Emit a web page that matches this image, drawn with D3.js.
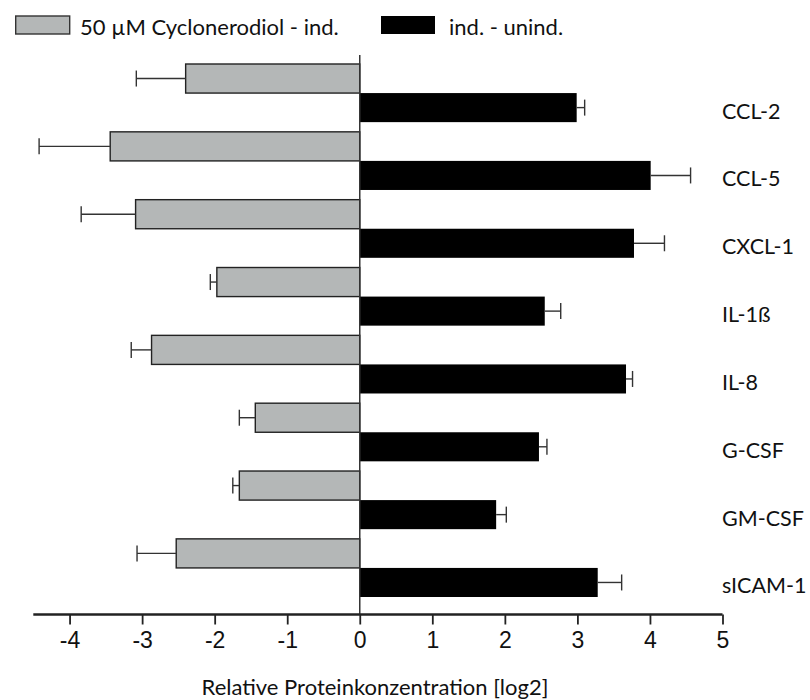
<!DOCTYPE html>
<html>
<head>
<meta charset="utf-8">
<script src="https://cdn.jsdelivr.net/npm/d3@7"></script>
<style>
  html, body { margin: 0; padding: 0; background: #fff; }
  svg { display: block; }
</style>
</head>
<body>
<div id="chart"></div>
<script>
// ---- Data ----
const categories = ["CCL-2", "CCL-5", "CXCL-1", "IL-1ß", "IL-8", "G-CSF", "GM-CSF", "sICAM-1"];
const seriesNames = ["50 µM Cyclonerodiol - ind.", "ind. - unind."];
const cycloValues = [-2.40, -3.44, -3.09, -1.97, -2.87, -1.44, -1.66, -2.53];
const cycloErrors = [0.68, 0.98, 0.75, 0.09, 0.28, 0.22, 0.09, 0.54];
const indValues   = [2.99, 4.01, 3.78, 2.55, 3.67, 2.47, 1.88, 3.28];
const indErrors   = [0.11, 0.55, 0.42, 0.22, 0.09, 0.11, 0.14, 0.33];
const xTicks = [-4, -3, -2, -1, 0, 1, 2, 3, 4, 5];
const xTitle = "Relative Proteinkonzentration [log2]";

// ---- Layout ----
const W = 810, H = 700;
const colors = ["#b4b7b7", "#000000"];
const svg = d3.select("#chart").append("svg").attr("width", W).attr("height", H);

const x = d3.scaleLinear().domain([-4.5, 5]).range([33.3, 722.5]);
const y = d3.scaleBand().domain(categories).range([64, 597]).paddingInner(0.143).paddingOuter(0);
const ySub = d3.scaleBand().domain([0, 1]).range([0, y.bandwidth()]).padding(0);

const series = [
  { values: cycloValues, errors: cycloErrors },
  { values: indValues, errors: indErrors }
];

// bars
series.forEach((s, si) => {
  const data = categories.map((c, i) => ({ c, v: s.values[i], e: s.errors[i] }));
  const g = svg.append("g");
  g.selectAll("rect").data(data).join("rect")
    .attr("x", d => Math.min(x(0), x(d.v)))
    .attr("y", d => y(d.c) + ySub(si))
    .attr("width", d => Math.abs(x(d.v) - x(0)))
    .attr("height", ySub.bandwidth())
    .attr("fill", colors[si])
    .attr("stroke", si === 0 ? "#222" : "none")
    .attr("stroke-width", 1.4);
  // error bars
  const eg = svg.append("g").attr("stroke", "#333").attr("stroke-width", 1.4).attr("fill", "none");
  data.forEach(d => {
    const yc = y(d.c) + ySub(si) + ySub.bandwidth() / 2;
    const end = d.v + Math.sign(d.v) * d.e;
    eg.append("line").attr("x1", x(d.v)).attr("x2", x(end)).attr("y1", yc).attr("y2", yc);
    eg.append("line").attr("x1", x(end)).attr("x2", x(end)).attr("y1", yc - 8).attr("y2", yc + 8);
  });
});

// zero line
svg.append("line")
  .attr("x1", x(0)).attr("x2", x(0))
  .attr("y1", 55).attr("y2", 614)
  .attr("stroke", "#333").attr("stroke-width", 1.5);

// x axis
const axisY = 614.5;
const axis = d3.axisBottom(x).tickValues(xTicks).tickSize(10).tickPadding(7).tickFormat(d => String(d));
const ax = svg.append("g").attr("transform", `translate(0,${axisY})`).call(axis);
ax.select(".domain").attr("d", `M${x(-4.5)},0H${x(5)}`).attr("stroke", "#222").attr("stroke-width", 2.5);
ax.selectAll(".tick line").attr("stroke", "#222").attr("stroke-width", 1.8);
ax.selectAll(".tick text")
  .attr("font-family", "'Liberation Sans Narrow', 'Liberation Sans', Arial, sans-serif")
  .attr("font-size", 23).attr("fill", "#111");

// axis title
svg.append("text")
  .attr("x", 375).attr("y", 695)
  .attr("text-anchor", "middle")
  .attr("font-family", "Lato, sans-serif").attr("font-size", 22).attr("fill", "#111")
  .text(xTitle);

// category labels
svg.append("g").selectAll("text").data(categories).join("text")
  .attr("x", 722)
  .attr("y", c => y(c) + ySub(1) + ySub.bandwidth() / 2 + 11)
  .attr("font-family", "Lato, sans-serif").attr("font-size", 21.5).attr("fill", "#111")
  .text(c => c);

// legend
const legendItems = [
  { name: seriesNames[0], color: colors[0], sx: 15.7, tx: 80 },
  { name: seriesNames[1], color: colors[1], sx: 381, tx: 449 }
];
const lg = svg.append("g");
legendItems.forEach((it, i) => {
  lg.append("rect").attr("x", it.sx).attr("y", 16).attr("width", 54).attr("height", 18)
    .attr("fill", it.color).attr("stroke", i === 0 ? "#333" : "none").attr("stroke-width", 1.4);
  lg.append("text").attr("x", it.tx).attr("y", 35)
    .attr("font-family", "Lato, sans-serif").attr("font-size", 22).attr("fill", "#111")
    .text(it.name);
});
</script>
</body>
</html>
